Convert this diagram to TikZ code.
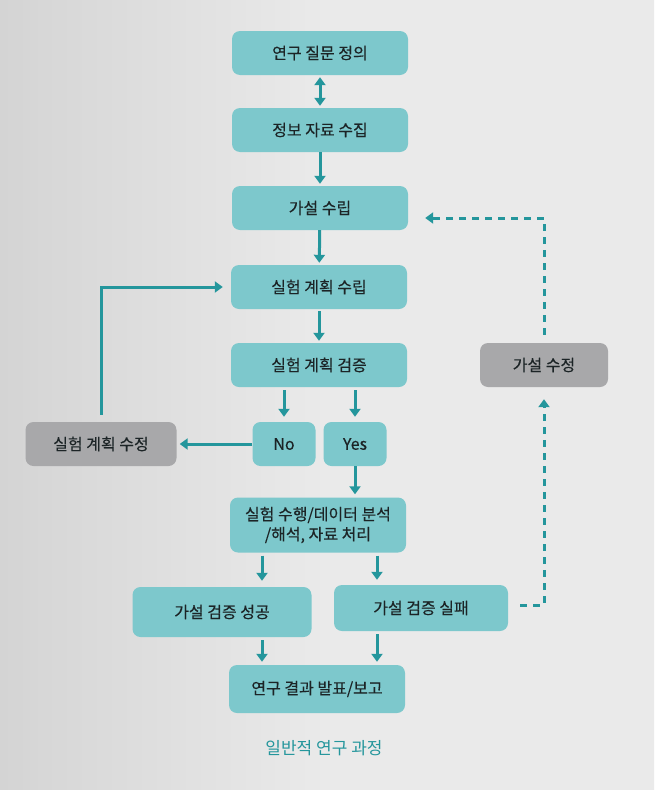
\documentclass[tikz,border=0pt]{standalone}
\usepackage{fontspec}
\setmainfont{Noto Sans CJK KR}
\newfontfamily\boxfont{Noto Sans CJK KR}[FakeBold=0.35]
\usepackage{tikz}
\usetikzlibrary{arrows.meta}

\definecolor{boxteal}{RGB}{125,200,204}
\definecolor{boxgray}{RGB}{168,168,170}
\definecolor{lineteal}{RGB}{36,150,156}
\definecolor{inkdark}{RGB}{28,36,38}
\definecolor{paperdark}{RGB}{212,212,212}
\definecolor{paperlight}{RGB}{234,234,234}

\begin{document}
\begin{tikzpicture}[x=1pt,y=-1pt,
  box/.style={fill=boxteal,rounded corners=8pt,minimum width=176pt,minimum height=44pt,
    inner sep=0pt,text=inkdark,font=\fontsize{16}{20}\boxfont},
  graybox/.style={box,fill=boxgray},
  link/.style={draw=lineteal,line width=3pt,-{Triangle[width=11pt,length=8pt]}},
  dlink/.style={link,dash pattern=on 7pt off 6pt}]
\shade[left color=paperdark,right color=paperlight,middle color=paperlight] (0,0) rectangle (654,790);
\useasboundingbox (0,0) rectangle (654,790);

\node[box](ask) at (320,53) {연구 질문 정의};
\node[box](info) at (320,130) {정보 자료 수집};
\node[box](hyp) at (320,208) {가설 수립};
\node[box](plan) at (319,287) {실험 계획 수립};
\node[box](check) at (319,365) {실험 계획 검증};
\node[box,minimum width=63pt](no) at (284,444) {No};
\node[box,minimum width=63pt](yes) at (355,444) {Yes};
\node[graybox,minimum width=151pt](fixplan) at (101,444) {실험 계획 수정};
\node[box,minimum height=55pt,align=center](run) at (318,525) {실험 수행/데이터 분석\\/해석, 자료 처리};
\node[box,minimum width=179pt,minimum height=50pt](ok) at (222,612) {가설 검증 성공};
\node[box,minimum width=174pt,minimum height=46pt](fail) at (421,608) {가설 검증 실패};
\node[box,minimum height=48pt](report) at (317,689) {연구 결과 발표/보고};
\node[graybox,minimum width=128pt](fixhyp) at (544,365) {가설 수정};
\node[text=lineteal,font=\fontsize{17}{20}\selectfont](caption) at (324,748) {일반적 연구 과정};

\coordinate (colL) at (262,0);
\coordinate (colR) at (377,0);

\path (ask) edge [link,{Triangle[width=11pt,length=8pt]}-{Triangle[width=11pt,length=8pt]},shorten <=2pt,shorten >=2pt] (info);
\path (info) edge [link,shorten >=2pt] (hyp);
\path (hyp) edge [link,shorten >=2pt] (plan);
\path (plan) edge [link,shorten <=2pt,shorten >=2pt] (check);
\path (check.south -| no) edge [link,shorten <=3pt,shorten >=5pt] (no.north);
\path (check.south -| yes) edge [link,shorten <=3pt,shorten >=5pt] (yes.north);
\path (no) edge [link,shorten >=3pt] (fixplan);
\draw [link,shorten <=7pt,shorten >=8pt] (fixplan.north) |- (plan.west);
\path (yes.south) edge [link,shorten >=3pt] (yes.south |- run.north);
\path (run.south -| colL) edge [link,shorten <=3pt,shorten >=6pt] (ok.north -| colL);
\path (run.south -| colR) edge [link,shorten <=3pt,shorten >=5pt] (fail.north -| colR);
\path (ok.south -| colL) edge [link,shorten <=3pt,shorten >=3pt] (report.north -| colL);
\path (fail.south -| colR) edge [link,shorten <=3pt,shorten >=3pt] (report.north -| colR);
\draw [dlink,shorten <=12pt,shorten >=12pt] ([yshift=3pt]fail.east) -| (fixhyp.south);
\draw [dlink,shorten <=8pt,shorten >=17pt] (fixhyp.north) |- ([yshift=-10pt]hyp.east);
\end{tikzpicture}
\end{document}
